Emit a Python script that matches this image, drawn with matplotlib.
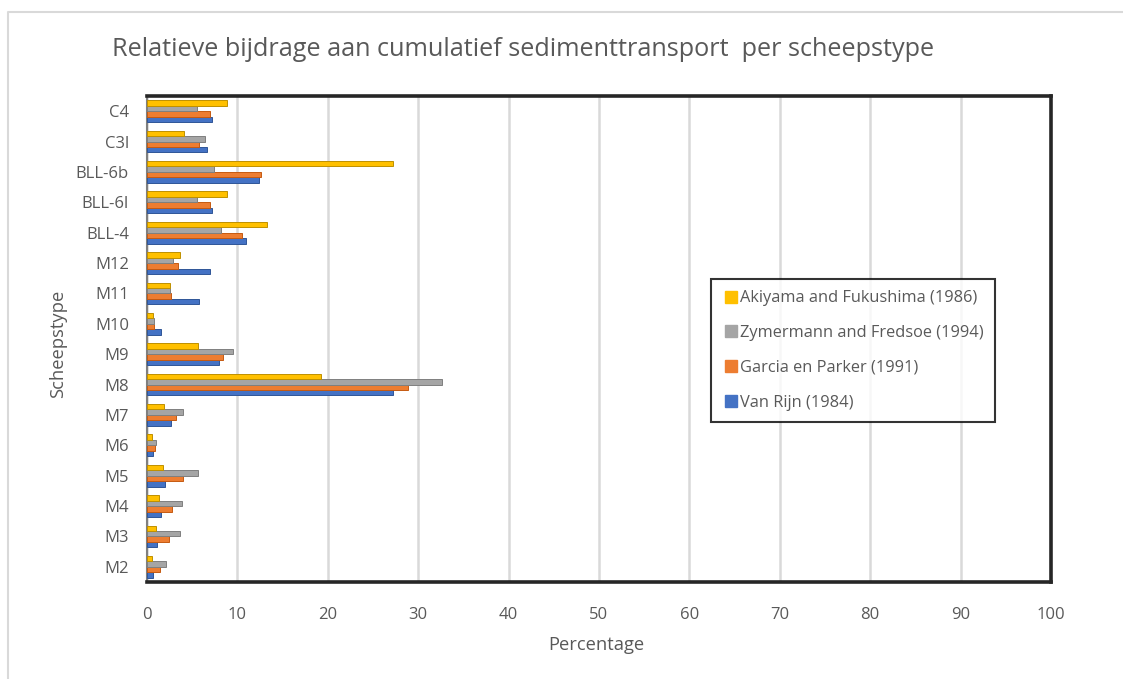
import numpy as np
import matplotlib.pyplot as plt
from matplotlib.lines import Line2D

plt.rcParams['font.family'] = ['Open Sans', 'DejaVu Sans']

# categories from bottom to top
scheepstypes = ["M2", "M3", "M4", "M5", "M6", "M7", "M8", "M9", "M10", "M11",
                "M12", "BLL-4", "BLL-6l", "BLL-6b", "C3l", "C4"]

van_rijn = [0.7, 1.1, 1.5, 2.0, 0.7, 2.6, 27.2, 8.0, 1.5, 5.7,
            7.0, 10.9, 7.2, 12.4, 6.6, 7.2]
garcia = [1.4, 2.4, 2.8, 4.0, 0.9, 3.2, 28.9, 8.4, 0.8, 2.7,
          3.4, 10.5, 7.0, 12.6, 5.8, 7.0]
zymermann = [2.1, 3.6, 3.9, 5.6, 1.0, 4.0, 32.6, 9.5, 0.8, 2.5,
             2.9, 8.2, 5.5, 7.4, 6.4, 5.5]
akiyama = [0.6, 1.0, 1.3, 1.8, 0.5, 1.9, 19.3, 5.6, 0.7, 2.5,
           3.7, 13.3, 8.8, 27.2, 4.1, 8.8]

series = [
    ("Van Rijn (1984)", van_rijn, "#4472C4", "#2F5597"),
    ("Garcia en Parker (1991)", garcia, "#ED7D31", "#C55A11"),
    ("Zymermann and Fredsoe (1994)", zymermann, "#A5A5A5", "#7F7F7F"),
    ("Akiyama and Fukushima (1986)", akiyama, "#FFC000", "#BF9000"),
]

W, H = 1123, 679
fig = plt.figure(figsize=(W / 100, H / 100), dpi=100)
ax = fig.add_axes([147 / W, 1 - 582 / H, 904 / W, 486 / H])

y = np.arange(len(scheepstypes))
h = 0.18
for i, (name, vals, col, edge) in enumerate(series):
    ax.barh(y + (i - 1.5) * h, vals, height=h, color=col, edgecolor=edge,
            linewidth=0.7, label=name, zorder=3)

ax.set_xlim(0, 100)
ax.set_ylim(-0.5, len(scheepstypes) - 0.5)
ax.set_xticks(range(0, 101, 10))
ax.set_yticks(y)
ax.set_yticklabels(scheepstypes)
ax.tick_params(axis='both', length=0, labelsize=12, colors='#595959')
ax.tick_params(axis='x', pad=18)
ax.tick_params(axis='y', pad=13)
ax.xaxis.grid(True, color='#D9D9D9', linewidth=1.8, zorder=0)
ax.set_axisbelow(True)

for s in ['top', 'right', 'bottom']:
    ax.spines[s].set_color('#262626')
    ax.spines[s].set_linewidth(2.6)
ax.spines['left'].set_color('#7F7F7F')
ax.spines['left'].set_linewidth(1.5)

fig.text(112 / W, 1 - 50 / H, "Relatieve bijdrage aan cumulatief sedimenttransport  per scheepstype",
         fontsize=18.2, color='#595959', va='center', ha='left')
fig.text(58 / W, 1 - 344 / H, "Scheepstype", rotation=90, fontsize=13.2,
         color='#595959', va='center', ha='center')
fig.text(596 / W, 1 - 645 / H, "Percentage", fontsize=13.2,
         color='#595959', va='center', ha='center')

# outer chart frame (partly cropped)
fig.add_artist(Line2D([8 / W, 8 / W, 1], [0, 1 - 12 / H, 1 - 12 / H],
                      transform=fig.transFigure, color='#D9D9D9', linewidth=1.5))

handles = [Line2D([], [], marker='s', linestyle='none', markersize=8,
                  markerfacecolor=col, markeredgecolor=col) for _, _, col, _ in series[::-1]]
labels = [name for name, _, _, _ in series[::-1]]
leg = ax.legend(handles, labels, loc='upper left', bbox_to_anchor=(711 / W, 1 - 279 / H),
                bbox_transform=fig.transFigure, borderaxespad=0, fontsize=11.75,
                labelspacing=1.15, handletextpad=0.1, handlelength=1.0,
                frameon=True, fancybox=False, borderpad=0.7)
leg.get_frame().set_edgecolor('black')
leg.get_frame().set_linewidth(1.5)
for t in leg.get_texts():
    t.set_color('#595959')

fig.savefig("out.png", dpi=100)
